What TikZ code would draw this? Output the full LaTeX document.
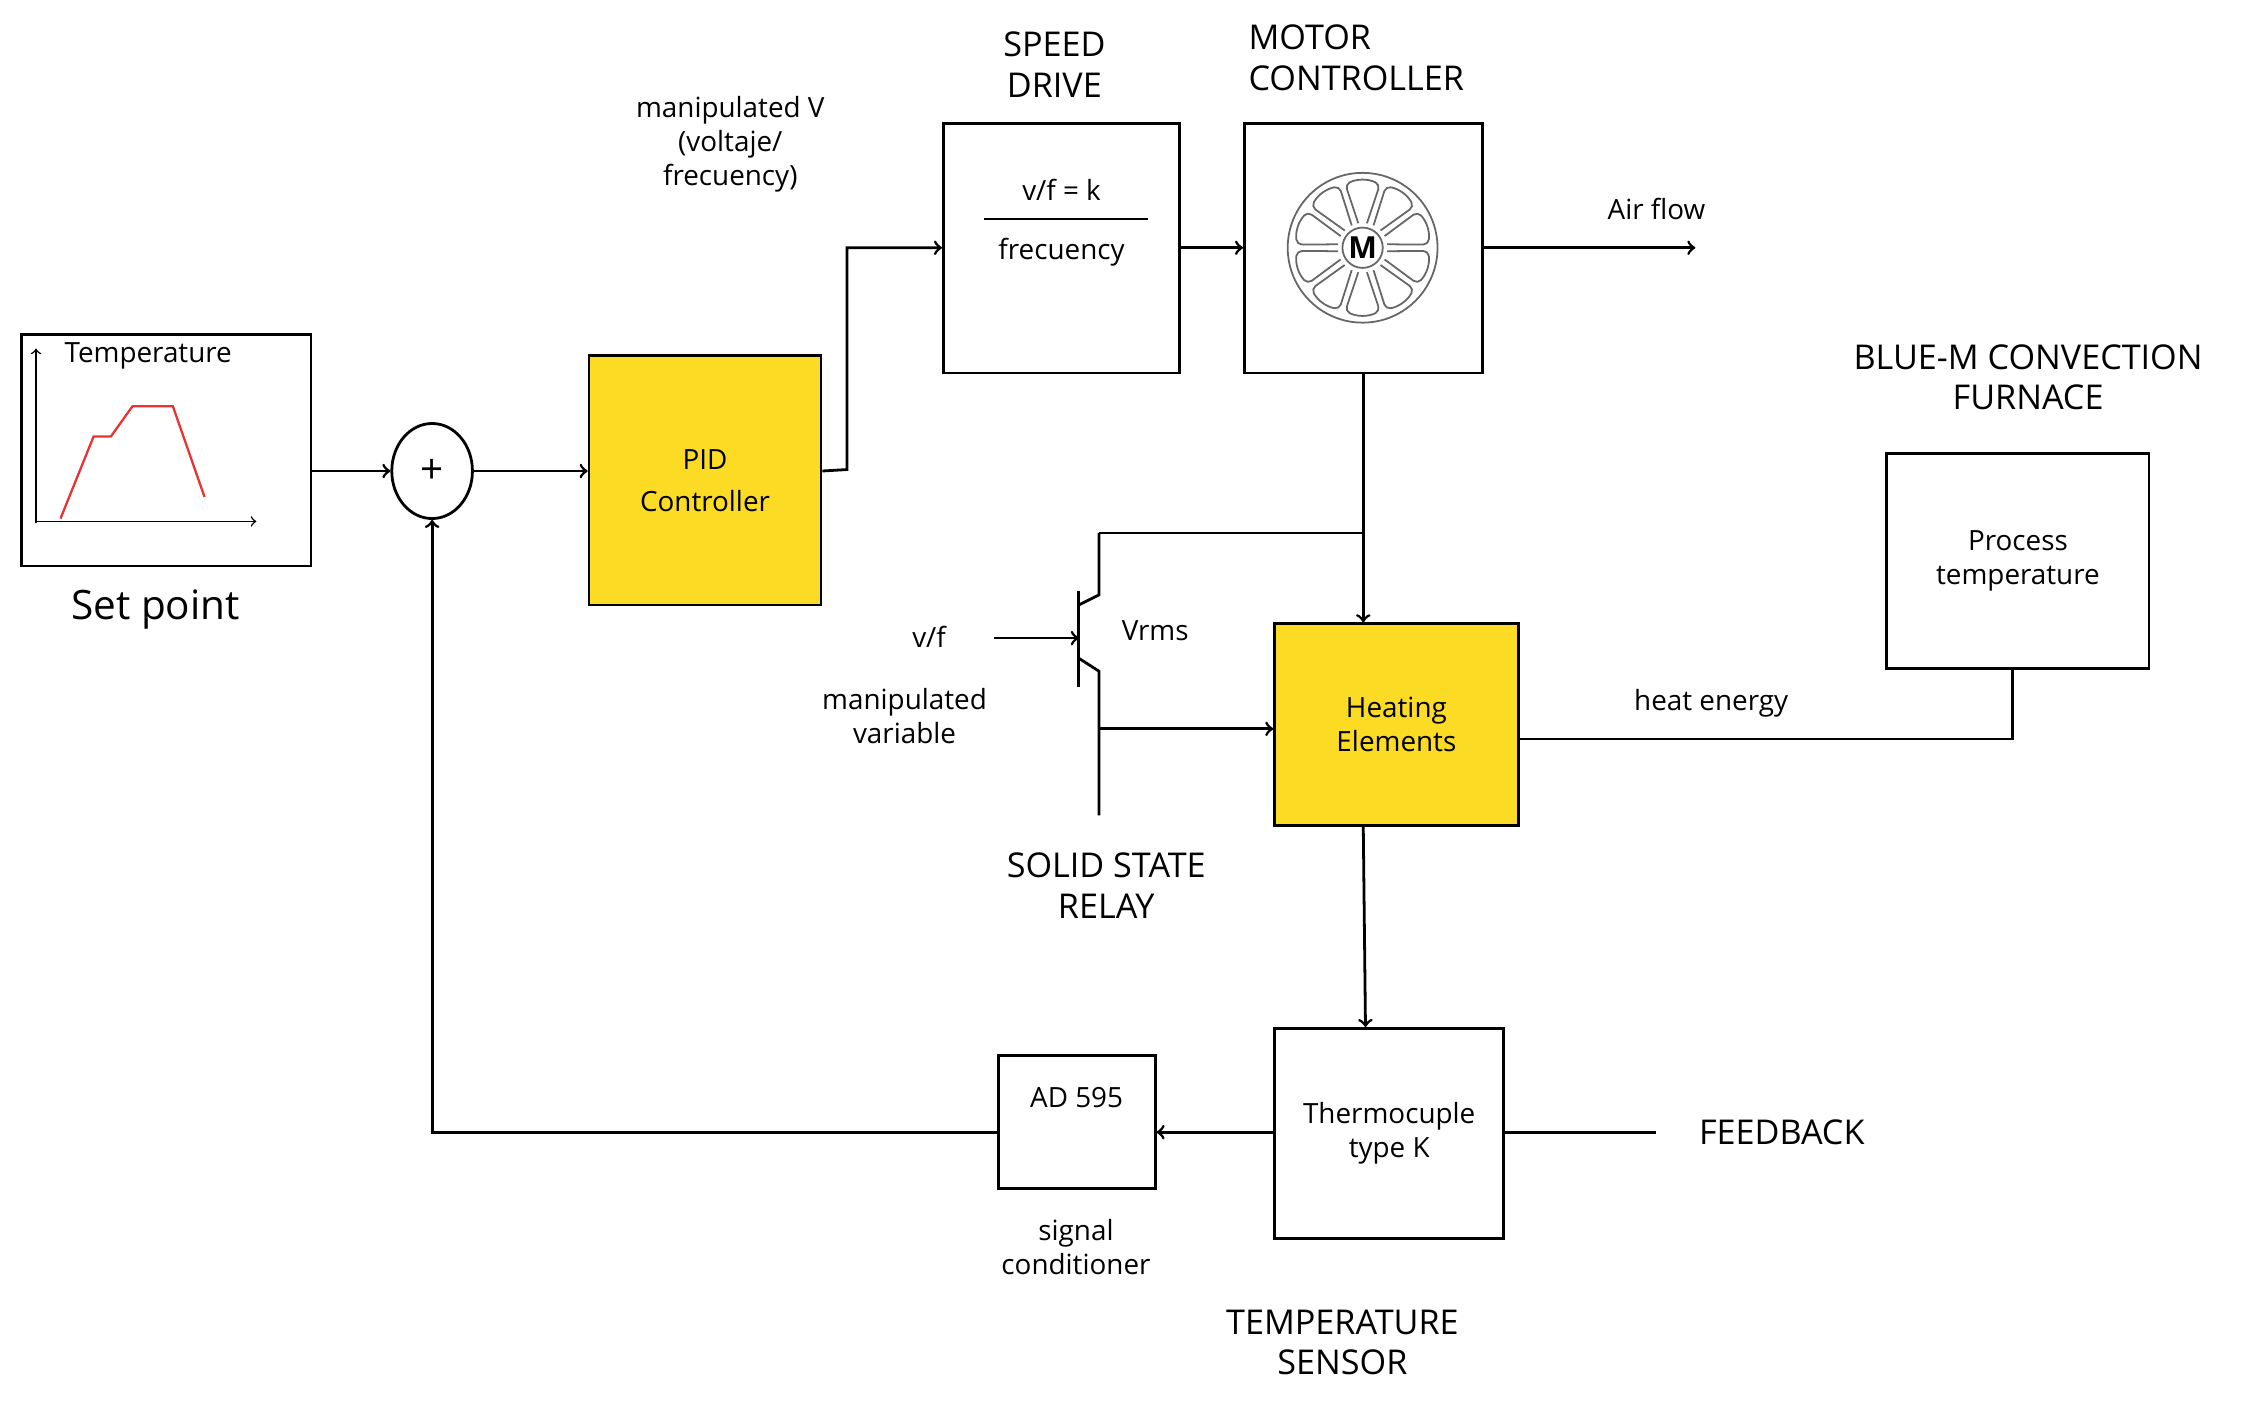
\documentclass[tikz,border=0pt]{standalone}
\usepackage{fontspec}
\setmainfont{Open Sans}
\usetikzlibrary{arrows,shapes.geometric}
\definecolor{blockyellow}{RGB}{252,219,36}
\definecolor{curvered}{RGB}{235,50,50}
\begin{document}
\begin{tikzpicture}[x=0.02cm,y=-0.02cm,line width=1.1pt,>=to]

  \tikzset{BLK/.style={draw, anchor=north west, inner sep=0pt}}
  \tikzset{TXT/.style={align=center, font=\fontsize{11}{13.5}\selectfont}}
  \tikzset{TTL/.style={align=center, font=\fontsize{13.5}{16}\selectfont}}

  \useasboundingbox[fill=white] (0,0) rectangle (1560,981);

  % blocks
  \node[BLK, minimum width=201*0.02cm, minimum height=161*0.02cm] (sp) at (14,231) {};
  \node[draw, ellipse, minimum width=56*0.02cm, minimum height=66*0.02cm, inner sep=0pt, font=\fontsize{16}{16}\selectfont] (sum) at (300,327) {+};
  \node[BLK, fill=blockyellow, minimum width=161*0.02cm, minimum height=173*0.02cm] (pid) at (408,246) {};
  \node[TXT] at (pid.center) {PID\\[3pt]Controller};
  \node[BLK, minimum width=164*0.02cm, minimum height=173*0.02cm] (drv) at (654,85) {};
  \node[BLK, minimum width=165*0.02cm, minimum height=173*0.02cm] (mot) at (863,85) {};
  \node[BLK, fill=blockyellow, minimum width=169*0.02cm, minimum height=140*0.02cm] (heat) at (884,432) {};
  \node[TXT] at (heat.center) {Heating\\Elements};
  \node[BLK, minimum width=182*0.02cm, minimum height=149*0.02cm] (proc) at (1309,314) {};
  \node[TXT] at (proc.center) {Process\\temperature};
  \node[BLK, minimum width=159*0.02cm, minimum height=146*0.02cm] (tc) at (884,713) {};
  \node[TXT] at (tc.center) {Thermocuple\\type K};
  \node[BLK, minimum width=109*0.02cm, minimum height=92*0.02cm] (ad) at (692,732) {};
  \node[TXT] at ([yshift=17*0.02cm]ad.center) {AD 595};

  % set point graph
  \draw[line width=0.6pt,->] (25,363) -- (25,242);
  \draw[line width=0.6pt,->] (25,362) -- (178,362);
  \draw[curvered, line width=0.9pt] (42,360) -- (65,303) -- (77,303) -- (92,282) -- (120,282) -- (142,345);
  \node[TXT, anchor=west] at (38,247) {Temperature};
  \node[font=\fontsize{16}{19}\selectfont] at (108,423) {Set point};

  % speed drive contents
  \node[TXT] at (737,132) {v/f = k};
  \draw (683,152) -- (797,152);
  \node[TXT] at (737,175) {frecuency};

  % fan motor
  \coordinate (fan) at (946,172);
  \draw[gray!80!black, line width=0.7pt] (fan) circle[radius=52*0.02cm];
  \foreach \a in {0,36,...,324}
    \draw[gray!80!black, line width=0.7pt, rounded corners=2pt, shift={(fan)}, rotate=\a+18]
      (17,-3) -- (44,-12) to[bend left=25] (44,12) -- (17,3);
  \node[draw=gray!80!black, fill=white, circle, line width=0.7pt, minimum size=28*0.02cm, inner sep=0pt, font=\bfseries\fontsize{12}{12}\selectfont] (m) at (fan) {M};

  % solid state relay
  \coordinate (col) at (763,370);
  \coordinate (emt) at (763,566);
  \coordinate (tap) at (763,506);
  \draw (749,410) -- (749,477);
  \draw (col) -- (763,413) -- (749,420);
  \draw (749,457) -- (763,466) -- (emt);
  \coordinate (base) at (749,443);
  \coordinate (vf) at (690,443);

  % connectors
  \draw[->] (sp.east |- sum) -- (sum.west);
  \draw[->] (sum.east) -- (pid.west |- sum);
  \draw[->] (pid.east |- sum) -- (588,326) |- (drv.west |- fan);
  \draw[->] (drv.east |- fan) -- (mot.west |- fan);
  \coordinate (air) at (1177,172);
  \draw[->] (mot.east |- fan) -- (air);
  \draw[->] (mot.south) -- (heat.north -| mot.south);
  \draw (946,370) -- (col);
  \draw[->] (vf) -- (base);
  \draw[->] (tap) -- (heat.west |- tap);
  \draw (heat.east |- 0,513) -| (proc.south -| 1397,0);
  \draw[->] (heat.south -| mot.south) -- (tc.north -| 948,0);
  \coordinate (fb) at (1150,786);
  \draw (tc.east |- fb) -- (fb);
  \draw[->] (tc.west |- fb) -- (ad.east |- fb);
  \draw[->] (ad.west |- fb) -| (sum.south);

  % labels
  \node[TXT] at (507,100) {manipulated V\\(voltaje/\\frecuency)};
  \node[TTL] at (732,45) {SPEED\\DRIVE};
  \node[TTL, align=left, anchor=west] at (860,40) {MOTOR\\CONTROLLER};
  \node[TXT] at (1150,145) {Air flow};
  \node[TTL] at (1408,262) {BLUE-M CONVECTION\\FURNACE};
  \node[TXT] at (1188,488) {heat energy};
  \node[TXT] at (645,442) {v/f};
  \node[TXT] at (628,497) {manipulated\\variable};
  \node[TXT] at (802,438) {Vrms};
  \node[TTL] at (768,615) {SOLID STATE\\RELAY};
  \node[TTL] at (1237,786) {FEEDBACK};
  \node[TXT] at (747,866) {signal\\conditioner};
  \node[TTL] at (932,932) {TEMPERATURE\\SENSOR};
\end{tikzpicture}
\end{document}
